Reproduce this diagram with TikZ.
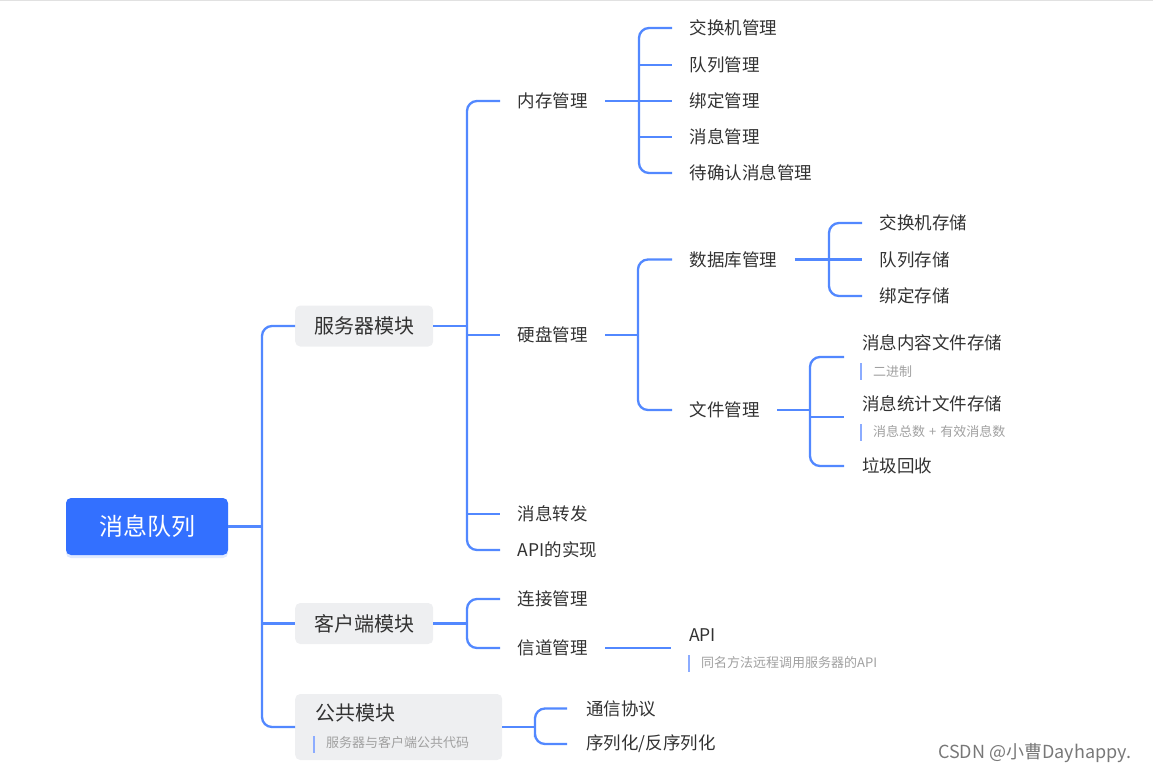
\documentclass[tikz,border=0pt]{standalone}
\usepackage{fontspec}
\setmainfont{Noto Sans CJK SC}
\usetikzlibrary{shadows}
\definecolor{lnk}{RGB}{82,136,255}
\definecolor{rootblue}{RGB}{51,112,255}
\definecolor{modfill}{RGB}{238,239,241}
\definecolor{txt}{RGB}{50,50,50}
\definecolor{notegray}{RGB}{160,160,160}
\definecolor{barblue}{RGB}{140,172,255}
\definecolor{wmgray}{RGB}{120,120,120}
\definecolor{topline}{RGB}{225,225,225}
\begin{document}
\begin{tikzpicture}[x=1pt,y=-1pt,
  link/.style={draw=lnk, line width=2.3pt, rounded corners=10pt},
  lbl/.style={anchor=west, inner xsep=17.5pt, inner ysep=2pt, text=txt, font=\fontsize{17.5}{20}\selectfont},
  ttl/.style={anchor=west, inner sep=0pt, text=txt, font=\fontsize{17.5}{20}\selectfont},
  sub/.style={anchor=west, inner sep=0pt, text=notegray, font=\fontsize{13}{15}\selectfont},
  notebar/.style={draw=barblue, line width=1.6pt},
  module/.style={fill=modfill, rounded corners=5pt, anchor=west, minimum height=41pt, minimum width=138pt, inner sep=0pt, text=txt, font=\fontsize{20}{24}\selectfont},
  rootbox/.style={fill=rootblue, rounded corners=5pt, minimum width=162pt, minimum height=57pt, inner sep=0pt, text=white, font=\fontsize{24}{28}\selectfont, drop shadow={opacity=0.18, shadow xshift=0pt, shadow yshift=-3pt, fill=lnk}}
]
\useasboundingbox (0,0) rectangle (1153,774);
\draw[topline, line width=1pt] (0,0.5) -- (1153,0.5);

% root and modules
\node[rootbox] (root) at (147,526.5) {消息队列};
\node[module] (srv) at (295,326) {服务器模块};
\node[module] (cli) at (295,623.5) {客户端模块};
\node[module, minimum width=207pt, minimum height=66pt] (pub) at (295,727) {};
\node[ttl, font=\fontsize{20}{24}\selectfont] (pubt) at (315,713) {公共模块};
\node[sub] (pubn) at (326,743) {服务器与客户端公共代码};
\draw[notebar] (314,736) -- (314,753);

% level 2
\node[lbl] (mem) at (500,101) {内存管理};
\node[lbl] (disk) at (500,335) {硬盘管理};
\node[lbl] (fwd) at (500,514) {消息转发};
\node[lbl] (apiimpl) at (500,550) {API的实现};
\node[lbl] (conn) at (500,599) {连接管理};
\node[lbl] (chan) at (500,648) {信道管理};
\node[lbl, inner xsep=19pt] (proto) at (567,708.5) {通信协议};
\node[lbl, inner xsep=19pt] (ser) at (567,744) {序列化/反序列化};

% memory children
\node[lbl] (ex) at (672,28) {交换机管理};
\node[lbl] (qu) at (672,65) {队列管理};
\node[lbl] (bd) at (672,101) {绑定管理};
\node[lbl] (msg) at (672,137) {消息管理};
\node[lbl] (ack) at (672,173) {待确认消息管理};

% disk children
\node[lbl] (db) at (672,259.5) {数据库管理};
\node[lbl] (file) at (672,410) {文件管理};
\node[lbl] (exs) at (862,223) {交换机存储};
\node[lbl] (qus) at (862,259.5) {队列存储};
\node[lbl] (bds) at (862,296) {绑定存储};

\node[ttl] (mcf) at (862,343) {消息内容文件存储};
\node[sub] (mcfn) at (873,372) {二进制};
\draw[notebar] (861,363) -- (861,380);
\coordinate (mcf-in) at (844,357);
\node[ttl] (msf) at (862,404) {消息统计文件存储};
\node[sub] (msfn) at (873,432) {消息总数\hspace{4pt}+\hspace{4pt}有效消息数};
\draw[notebar] (861,424) -- (861,441);
\coordinate (msf-in) at (844,417);
\node[lbl, inner xsep=18pt] (gc) at (844,466) {垃圾回收};

% API under channel
\node[ttl] (api) at (689,635) {API};
\node[sub] (apin) at (701,663) {同名方法远程调用服务器的API};
\draw[notebar] (689,655) -- (689,672);
\coordinate (api-in) at (671,648);

% watermark
\node[anchor=west, inner sep=0pt, text=wmgray, font=\fontsize{18}{20}\selectfont] (wm) at (938,753) {CSDN @小曹Dayhappy.};

% junctions
\coordinate (root-j) at (262,526.5);
\coordinate (srv-j) at (467,326);
\coordinate (cli-j) at (467,623.5);
\coordinate (pub-j) at (535,727);
\coordinate (mem-j) at (639,101);
\coordinate (disk-j) at (638,335);
\coordinate (db-j) at (829,259.5);
\coordinate (file-j) at (810,410);

% connectors
\draw[link] (root.east) -- (root-j);
\draw[link] (srv.west) -| (root-j) |- (pub.west);
\draw[link] (root-j |- cli.west) -- (cli.west);

\draw[link] (srv.east) -- (srv-j);
\draw[link] (mem.west) -| (srv-j) |- (apiimpl.west);
\draw[link] (srv-j |- disk.west) -- (disk.west);
\draw[link] (srv-j |- fwd.west) -- (fwd.west);

\draw[link] (cli.east) -- (cli-j);
\draw[link] (conn.west) -| (cli-j) |- (chan.west);

\draw[link] (pub.east) -- (pub-j);
\draw[link] (proto.west) -| (pub-j) |- (ser.west);

\draw[link] (mem.east) -- (mem-j);
\draw[link] (ex.west) -| (mem-j) |- (ack.west);
\draw[link] (mem-j |- qu.west) -- (qu.west);
\draw[link] (mem-j |- bd.west) -- (bd.west);
\draw[link] (mem-j |- msg.west) -- (msg.west);

\draw[link] (disk.east) -- (disk-j);
\draw[link] (db.west) -| (disk-j) |- (file.west);

\draw[link] (db.east) -- (db-j);
\draw[link] (exs.west) -| (db-j) |- (bds.west);
\draw[link] (db-j |- qus.west) -- (qus.west);

\draw[link] (file.east) -- (file-j);
\draw[link] (mcf-in) -| (file-j) |- (gc.west);
\draw[link] (file-j |- msf-in) -- (msf-in);

\draw[link] (chan.east) -- (api-in);
\end{tikzpicture}
\end{document}
